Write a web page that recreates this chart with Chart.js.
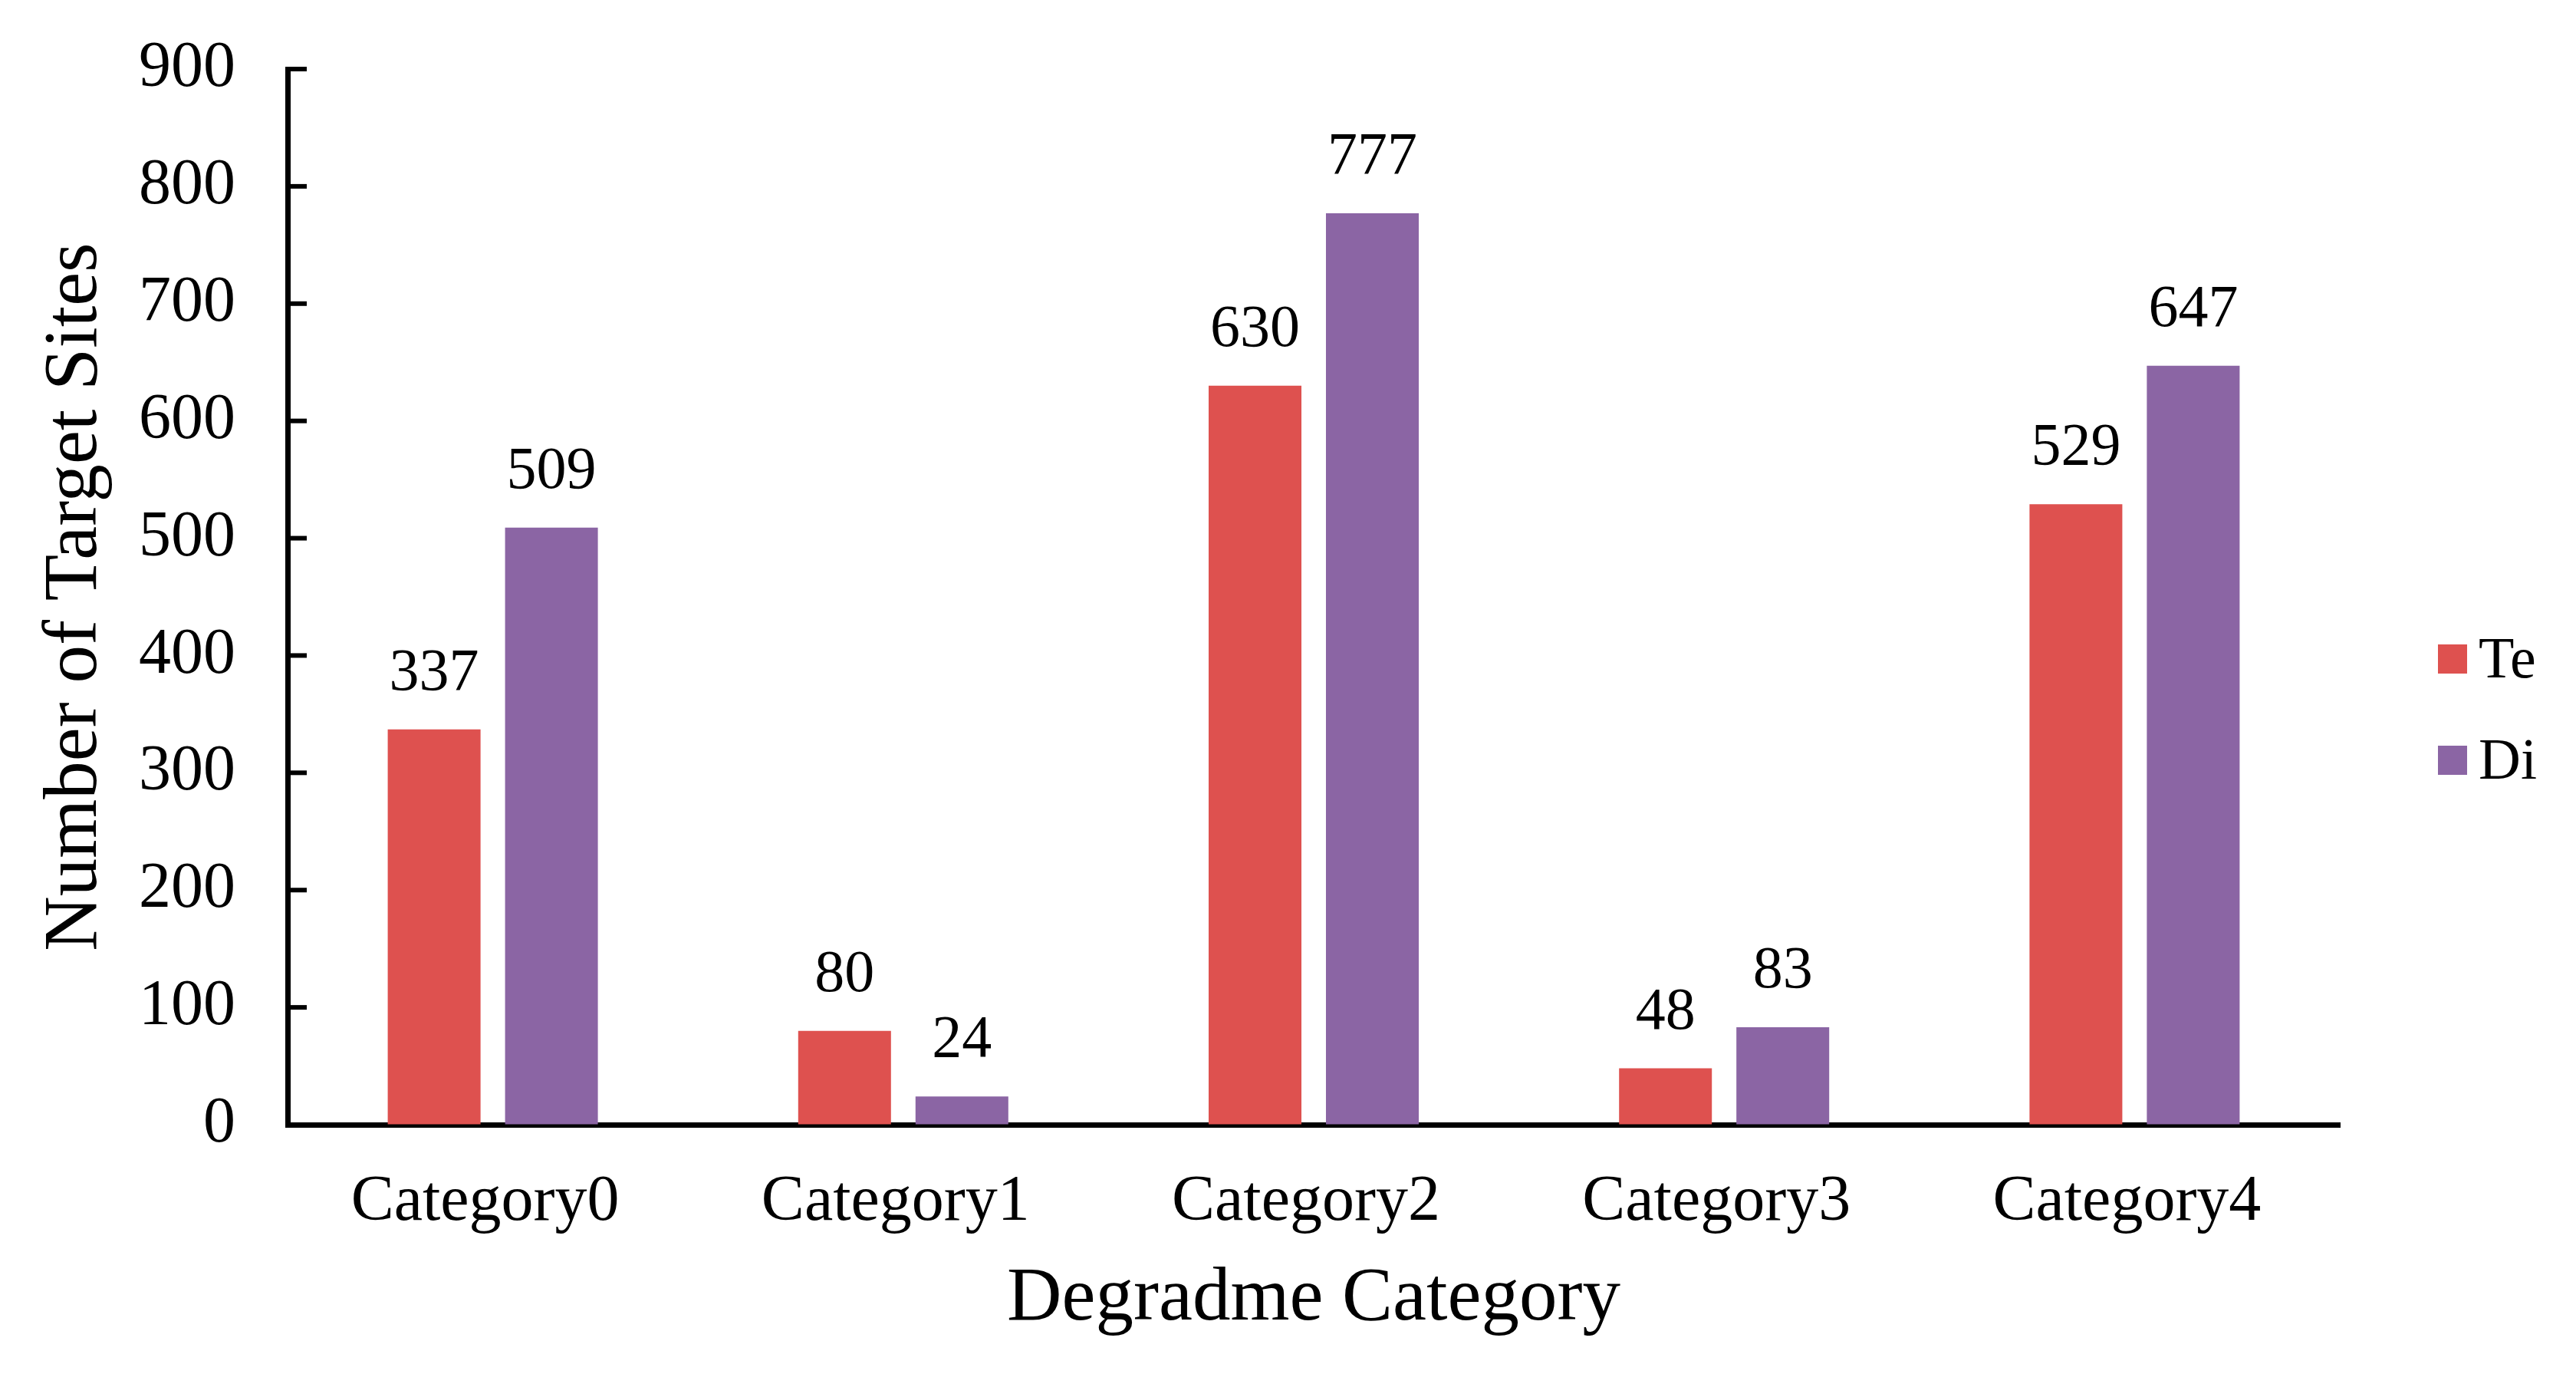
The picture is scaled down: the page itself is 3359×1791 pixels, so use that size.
<!DOCTYPE html>
<html>
<head>
<meta charset="utf-8">
<script src="https://cdn.jsdelivr.net/npm/chart.js@4.4.1/dist/chart.umd.min.js"></script>
<style>
html,body{margin:0;padding:0;background:#ffffff;}
#wrap{width:3359px;height:1791px;position:relative;}
</style>
</head>
<body>
<div id="wrap"><canvas id="c" width="3359" height="1791"></canvas></div>
<script>
// ---- data ----
const categories = ['Category0', 'Category1', 'Category2', 'Category3', 'Category4'];
const seriesNames = ['Te', 'Di'];
const teValues = [337, 80, 630, 48, 529];
const diValues = [509, 24, 777, 83, 647];
const yTickValues = [0, 100, 200, 300, 400, 500, 600, 700, 800, 900];
const xTitle = 'Degradme Category';
const yTitle = 'Number of Target Sites';

// ---- styles ----
const SERIF = "'Liberation Serif', 'Times New Roman', serif";
const RED = '#DE514F';
const PURPLE = '#8B65A4';
const W = 3359, H = 1791;
const AREA = {left: 375, top: 90, right: 3051, bottom: 1466};

const decoPlugin = {
  id: 'deco',
  afterDatasetsDraw(chart) {
    const ctx = chart.ctx;
    ctx.save();
    ctx.fillStyle = '#000';
    ctx.font = '78px ' + SERIF;
    ctx.textAlign = 'center';
    ctx.textBaseline = 'alphabetic';
    chart.data.datasets.forEach((ds, di) => {
      const meta = chart.getDatasetMeta(di);
      meta.data.forEach((bar, i) => {
        ctx.fillText(String(ds.data[i]), bar.x, bar.y - 52);
      });
    });
    ctx.restore();
  },
  afterDraw(chart) {
    const ctx = chart.ctx;
    const ys = chart.scales.y;
    const area = chart.chartArea;
    ctx.save();
    // inward tick marks on y axis
    ctx.strokeStyle = '#000';
    ctx.lineWidth = 6;
    ys.ticks.forEach((t) => {
      if (t.value === 0) return;
      const py = ys.getPixelForValue(t.value);
      ctx.beginPath();
      ctx.moveTo(area.left, py);
      ctx.lineTo(area.left + 25, py);
      ctx.stroke();
    });
    // legend
    const boxX = area.right + 128;
    const rows = [859, 991];
    ctx.font = '76px ' + SERIF;
    ctx.textAlign = 'left';
    ctx.textBaseline = 'alphabetic';
    chart.data.datasets.forEach((ds, di) => {
      const cy = rows[di];
      ctx.fillStyle = ds.backgroundColor;
      ctx.fillRect(boxX, cy - 19, 38, 38);
      ctx.fillStyle = '#000';
      ctx.fillText(ds.label, boxX + 53, cy + 24);
    });
    ctx.restore();
  }
};

new Chart(document.getElementById('c'), {
  type: 'bar',
  data: {
    labels: categories,
    datasets: [
      {label: seriesNames[0], data: teValues, backgroundColor: RED, borderWidth: 0},
      {label: seriesNames[1], data: diValues, backgroundColor: PURPLE, borderWidth: 0}
    ]
  },
  options: {
    responsive: false,
    devicePixelRatio: 1,
    animation: false,
    layout: {padding: {left: 0, top: AREA.top, right: W - AREA.right, bottom: 0}},
    plugins: {legend: {display: false}, tooltip: {enabled: false}},
    datasets: {bar: {categoryPercentage: 0.5717, barPercentage: 0.791}},
    scales: {
      x: {
        grid: {display: false},
        border: {display: true, color: '#000', width: 7},
        ticks: {color: '#000', font: {family: SERIF, size: 84}, padding: 44, labelOffset: -10, maxRotation: 0, autoSkip: false},
        title: {display: true, text: xTitle, color: '#000', font: {family: SERIF, size: 99}, padding: {top: 0, bottom: 38}},
        afterFit: (s) => { s.height = H - AREA.bottom; }
      },
      y: {
        min: 0, max: 900,
        afterBuildTicks: (s) => { s.ticks = yTickValues.map(v => ({value: v})); },
        grid: {display: true, drawOnChartArea: false, drawTicks: true, tickLength: 68, tickColor: 'rgba(0,0,0,0)'},
        border: {display: true, color: '#000', width: 7},
        ticks: {color: '#000', font: {family: SERIF, size: 84}, padding: 0},
        title: {display: true, text: yTitle, color: '#000', font: {family: SERIF, size: 99}, padding: {top: 40, bottom: 0}},
        afterFit: (s) => { s.width = AREA.left; }
      }
    }
  },
  plugins: [decoPlugin]
});
</script>
</body>
</html>
